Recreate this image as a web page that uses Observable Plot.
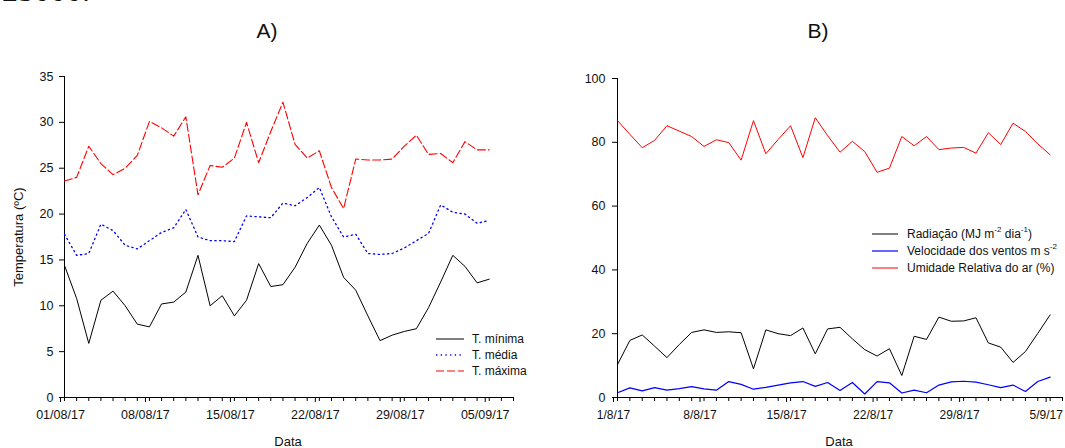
<!DOCTYPE html>
<html>
<head>
<meta charset="utf-8">
<script src="https://cdn.jsdelivr.net/npm/d3@7"></script>
<script src="https://cdn.jsdelivr.net/npm/@observablehq/plot@0.6"></script>
<style>
  body { margin:0; width:1065px; height:448px; position:relative; overflow:hidden; background:#fff; font-family:"Liberation Sans", Arial, sans-serif; color:#111; }
  .abs { position:absolute; white-space:nowrap; }
  .title { font-size:21px; line-height:21px; transform:translateX(-50%); }
  .axlab { font-size:13px; line-height:13px; }
  .leg { font-size:12px; line-height:14px; display:flex; align-items:center; }
  .leg sup { font-size:8px; line-height:0; position:relative; top:-1px; }
  svg.plot { overflow:visible; }
</style>
</head>
<body>
<div class="abs" style="left:2px;top:-26px;font-family:'Liberation Serif',serif;font-size:32px;line-height:32px;">25000.</div>
<div class="abs title" style="left:267px;top:20px;">A)</div>
<div class="abs title" style="left:818px;top:20px;">B)</div>
<div id="pa" class="abs" style="left:0;top:50px;"></div>
<div id="pb" class="abs" style="left:540px;top:50px;"></div>
<div class="abs axlab" style="left:18px;top:237px;transform:translate(-50%,-50%) rotate(-90deg);">Temperatura (ºC)</div>
<div class="abs axlab" style="left:288px;top:435px;transform:translateX(-50%);">Data</div>
<div class="abs axlab" style="left:839px;top:435px;transform:translateX(-50%);">Data</div>
<script>
// ---- data ----
const firstDay = "2017-08-01";
const nDays = 36;
const tmin = [14.4,10.8,5.9,10.6,11.6,10.0,8.0,7.7,10.2,10.4,11.5,15.5,10.0,11.1,8.9,10.6,14.6,12.1,12.3,14.2,16.8,18.8,16.6,13.1,11.7,8.9,6.2,6.8,7.2,7.5,9.8,12.6,15.5,14.3,12.5,12.9];
const tmed = [17.8,15.5,15.7,18.9,18.2,16.6,16.2,17.1,18.0,18.5,20.5,17.5,17.1,17.1,17.0,19.8,19.7,19.6,21.2,20.9,21.8,22.9,19.7,17.5,17.8,15.7,15.6,15.7,16.3,17.1,17.9,21.0,20.2,20.0,19.0,19.3];
const tmax = [23.6,24.0,27.4,25.5,24.3,25.0,26.4,30.1,29.4,28.5,30.6,22.1,25.3,25.1,26.1,30.0,25.6,29.0,32.2,27.6,26.1,26.9,22.9,20.6,26.0,25.9,25.9,26.0,27.4,28.6,26.5,26.6,25.6,27.9,27.0,27.0];
const rad  = [10.3,17.9,19.6,16.1,12.5,16.6,20.4,21.2,20.4,20.6,20.3,9.0,21.2,20.0,19.4,21.8,13.7,21.5,22.0,18.4,15.0,13.0,15.3,6.9,19.2,18.2,25.2,23.9,24.0,25.0,17.1,15.8,11.0,14.4,20.1,25.9];
const wind = [1.5,3.0,2.1,3.1,2.3,2.8,3.4,2.7,2.3,5.0,4.1,2.6,3.2,3.9,4.6,5.0,3.5,4.7,2.2,4.7,1.1,5.0,4.6,1.4,2.3,1.5,3.9,4.9,5.1,4.8,4.0,3.1,3.9,1.9,5.0,6.4];
const rh   = [86.8,82.5,78.3,80.6,85.2,83.5,81.8,78.7,80.8,79.9,74.4,86.8,76.4,80.9,85.2,75.2,87.7,82.1,76.9,80.3,77.1,70.6,71.9,81.8,78.9,81.8,77.7,78.2,78.4,76.6,83.0,79.3,86.0,83.4,79.5,76.1];

const tickDatesA = ["2017-08-01","2017-08-08","2017-08-15","2017-08-22","2017-08-29","2017-09-05"];
const tickDatesB = ["2017-08-01","2017-08-08","2017-08-15","2017-08-22","2017-08-29","2017-09-05"];
const axisEndA = "2017-09-07";
const axisEndB = "2017-09-06";
const yTicksA = [0,5,10,15,20,25,30,35];
const yTicksB = [0,20,40,60,80,100];

const seriesA = [
  {key:"tmin", name:"T. mínima", color:"#000000", dash:null, width:1},
  {key:"tmed", name:"T. média", color:"#0000ff", dash:"1.3,3.4", width:1.3},
  {key:"tmax", name:"T. máxima", color:"#ff0000", dash:"8,3", width:1.1}
];
const seriesB = [
  {key:"rad", name:"Radiação (MJ m<sup>-2</sup> dia<sup>-1</sup>)", color:"#000000", width:1},
  {key:"wind", name:"Velocidade dos ventos m s<sup>-2</sup>", color:"#0000ff", width:1.2},
  {key:"rh", name:"Umidade Relativa do ar (%)", color:"#ff0000", width:1}
];

// ---- build ----
const parse = d3.utcParse("%Y-%m-%d");
const d0 = parse(firstDay);
const dates = d3.utcDay.range(d0, d3.utcDay.offset(d0, nDays));
const rows = dates.map((d, i) => ({date: d, tmin: tmin[i], tmed: tmed[i], tmax: tmax[i], rad: rad[i], wind: wind[i], rh: rh[i]}));

function panel({width, height, ml, mr, mt, mb, xEnd, yDomain, yTicks, yPad, tickDates, fmt, xFont, series}) {
  const end = parse(xEnd);
  const minor = d3.utcDay.range(d0, d3.utcDay.offset(end, 1));
  const marks = [
    Plot.ruleY([yDomain[0]], {stroke: "#000", strokeWidth: 1}),
    Plot.ruleX([d0], {stroke: "#000", strokeWidth: 1}),
    Plot.axisY({ticks: yTicks, tickSize: 5, tickPadding: yPad, label: null, fontSize: 12.5, stroke: "#000"}),
    Plot.axisX({ticks: minor, tickSize: 4, tickFormat: () => "", label: null, stroke: "#000"}),
    Plot.axisX({ticks: tickDates.map(parse), tickSize: 5, tickPadding: 8, dx: -4, tickFormat: d3.utcFormat(fmt), label: null, fontSize: xFont, stroke: "#000"})
  ];
  for (const s of series) {
    marks.push(Plot.lineY(rows, {x: "date", y: s.key, stroke: s.color, strokeWidth: s.width, strokeDasharray: s.dash || undefined, curve: "linear"}));
  }
  return Plot.plot({
    width, height,
    marginLeft: ml, marginRight: mr, marginTop: mt, marginBottom: mb,
    style: {fontFamily: "'Liberation Sans', Arial, sans-serif", fontSize: "12.5px", color: "#111", background: "transparent", overflow: "visible"},
    x: {type: "utc", domain: [d0, end], label: null},
    y: {domain: yDomain, label: null},
    marks
  });
}

const a = panel({width: 540, height: 398, ml: 64, mr: 27, mt: 26, mb: 51, xEnd: axisEndA, yDomain: [0, 35], yTicks: yTicksA, yPad: 6, tickDates: tickDatesA, fmt: "%d/%m/%y", xFont: 12.5, series: seriesA});
a.classList.add("plot");
document.getElementById("pa").appendChild(a);

const b = panel({width: 525, height: 398, ml: 77, mr: 3, mt: 28, mb: 51, xEnd: axisEndB, yDomain: [0, 100], yTicks: yTicksB, yPad: 7, tickDates: tickDatesB, fmt: "%-d/%-m/%y", xFont: 12, series: seriesB});
b.classList.add("plot");
document.getElementById("pb").appendChild(b);

// ---- legends ----
function legend(series, left, top0, step, lineW, gap) {
  series.forEach((s, i) => {
    const div = document.createElement("div");
    div.className = "abs leg";
    div.style.left = left + "px";
    div.style.top = (top0 + i * step - 7) + "px";
    const dash = s.dash ? `stroke-dasharray="${s.dash}"` : "";
    div.innerHTML = `<svg width="${lineW}" height="8" style="display:block"><line x1="0" x2="${lineW}" y1="4" y2="4" stroke="${s.color}" stroke-width="${s.width}" ${dash}/></svg><span style="margin-left:${gap}px">${s.name}</span>`;
    document.body.appendChild(div);
  });
}
legend(seriesA, 436, 339, 16, 28, 8);
legend(seriesB, 872, 234, 17, 26, 9);
</script>
</body>
</html>
